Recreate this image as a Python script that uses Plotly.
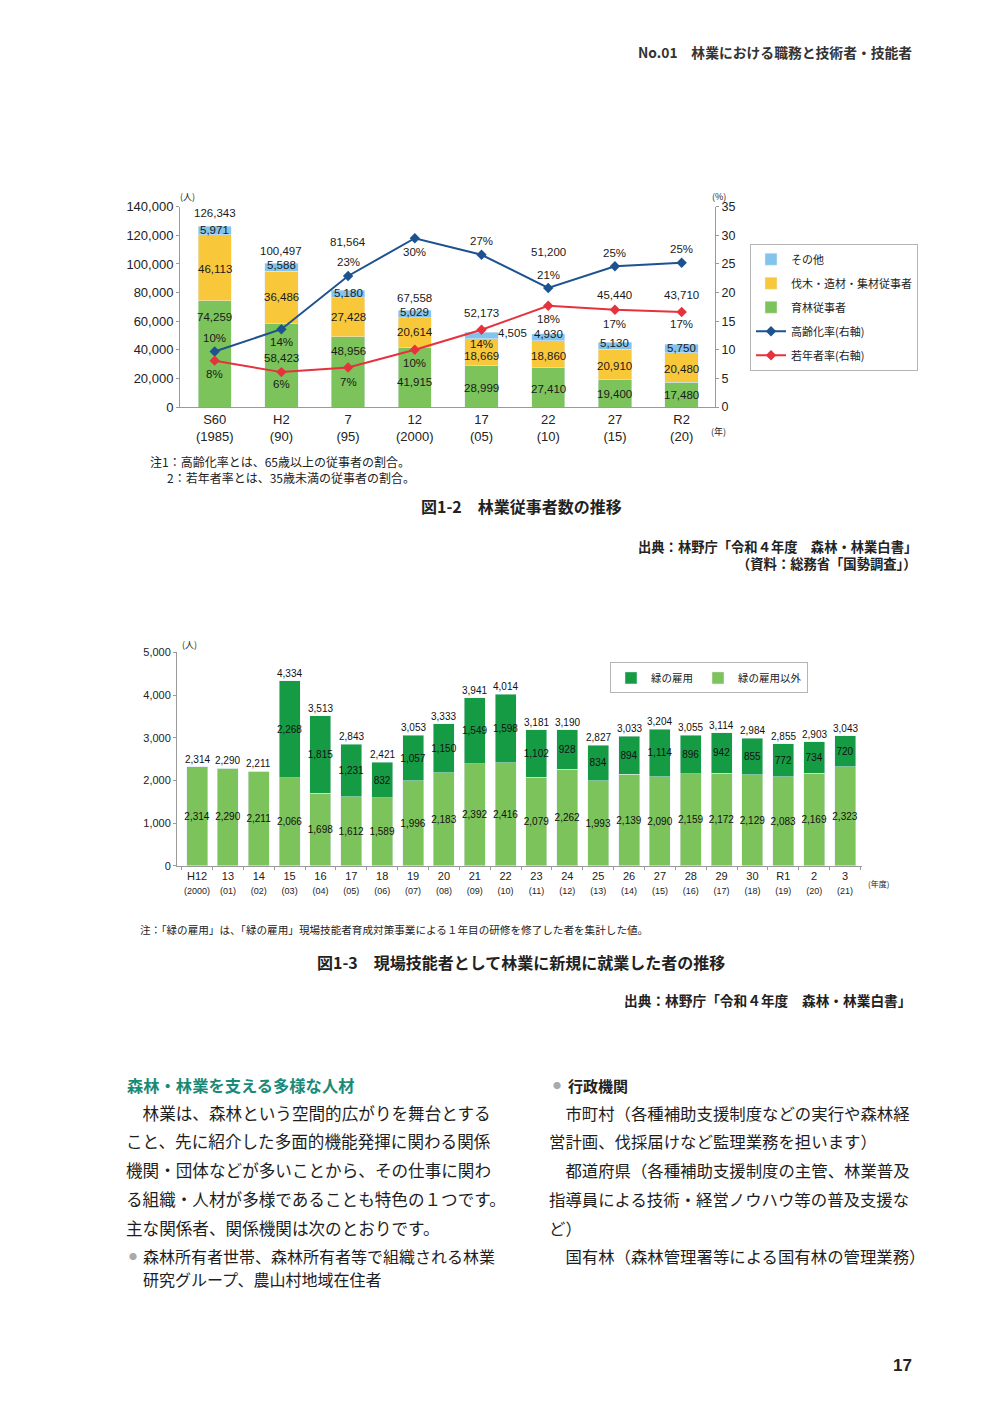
import plotly.graph_objects as go

# page is 1000x1415; figure drawn at 984x1399 with calibration to page pixels
M = 8
W, H = 1000 - 2 * M, 1415 - 2 * M
def px(x): return (x + 2 - M) / W
def py(y): return 1 - ((y - 8.66) / 0.9878 - M) / H

JP = "Noto Sans CJK JP"
NUM = "Liberation Sans Narrow, Arial Narrow, Liberation Sans, Arial"
NUM1 = "Liberation Sans, Arial"

# ---------------- 図1-2 data ----------------
years1 = ["S60<br>(1985)", "H2<br>(90)", "7<br>(95)", "12<br>(2000)", "17<br>(05)",
          "22<br>(10)", "27<br>(15)", "R2<br>(20)"]
ikurin = [74259, 58423, 48956, 41915, 28999, 27410, 19400, 17480]       # 育林従事者
batsuboku = [46113, 36486, 27428, 20614, 18669, 18860, 20910, 20480]    # 伐木・造材・集材従事者
sonota = [5971, 5588, 5180, 5029, 4505, 4930, 5130, 5750]               # その他
totals1 = [126343, 100497, 81564, 67558, 52173, 51200, 45440, 43710]
koreika = [9.7, 13.6, 22.9, 29.5, 26.6, 20.8, 24.6, 25.2]               # 高齢化率
jakunen = [8.1, 6.1, 6.9, 10.0, 13.5, 17.7, 17.0, 16.6]                 # 若年者率
koreika_lbl = ["10%", "14%", "23%", "30%", "27%", "21%", "25%", "25%"]
jakunen_lbl = ["8%", "6%", "7%", "10%", "14%", "18%", "17%", "17%"]

# label offsets (pixels, up positive)
total_shift = [13, 12, 48, 12, 19, 82, 47, 49]
ikurin_shift = [37, 7, 21, -5, -2, -2, -1, 0]
batsu_shift = [-1, 0, 0, 0, -3.5, -1.5, -1.5, -1.5]
sonota_shift = [1, 2, 1, 2, 3, 3, 3, 1]
sonota_xshift = [0, 0, 0, 0, 31, 0, 0, 0]
kor_shift = [14, -13, 14, -14, 14, 13, 13, 14]
jak_shift = [-13, -12, -14, -13, -14, -13, -14, -12]

# ---------------- 図1-3 data ----------------
years2 = ["H12<br>(2000)", "13<br>(01)", "14<br>(02)", "15<br>(03)", "16<br>(04)", "17<br>(05)",
          "18<br>(06)", "19<br>(07)", "20<br>(08)", "21<br>(09)", "22<br>(10)", "23<br>(11)",
          "24<br>(12)", "25<br>(13)", "26<br>(14)", "27<br>(15)", "28<br>(16)", "29<br>(17)",
          "30<br>(18)", "R1<br>(19)", "2<br>(20)", "3<br>(21)"]
midori = [0, 0, 0, 2268, 1815, 1231, 832, 1057, 1150, 1549, 1598, 1102, 928, 834, 894,
          1114, 896, 942, 855, 772, 734, 720]                           # 緑の雇用
igai = [2314, 2290, 2211, 2066, 1698, 1612, 1589, 1996, 2183, 2392, 2416, 2079, 2262, 1993,
        2139, 2090, 2159, 2172, 2129, 2083, 2169, 2323]                 # 緑の雇用以外
totals2 = [2314, 2290, 2211, 4334, 3513, 2843, 2421, 3053, 3333, 3941, 4014, 3181, 3190,
           2827, 3033, 3204, 3055, 3114, 2984, 2855, 2903, 3043]

C_GREEN = "#7dc35b"
C_YELLOW = "#f9c83a"
C_BLUE = "#82c4ec"
C_NAVY = "#1d5290"
C_RED = "#e6323c"
C_DKGREEN = "#169b45"
AX = "#9a9a9a"

fig = go.Figure()

# chart 1 bars
fig.add_trace(go.Bar(x=years1, y=ikurin, name="育林従事者", marker_color=C_GREEN, width=0.5,
                     xaxis="x", yaxis="y", legend="legend", legendrank=3, legendgroup="a3"))
fig.add_trace(go.Bar(x=years1, y=batsuboku, name="伐木・造材・集材従事者", marker_color=C_YELLOW,
                     width=0.5, xaxis="x", yaxis="y", legend="legend", legendrank=2, legendgroup="a2"))
fig.add_trace(go.Bar(x=years1, y=sonota, name="その他", marker_color=C_BLUE, width=0.5,
                     xaxis="x", yaxis="y", legend="legend", legendrank=1, legendgroup="a1"))
fig.add_trace(go.Scatter(x=years1, y=koreika, name="高齢化率(右軸)", mode="lines+markers",
                         line=dict(color=C_NAVY, width=2), marker=dict(symbol="diamond", size=8, color=C_NAVY),
                         xaxis="x", yaxis="y2", legend="legend", legendrank=4, legendgroup="a4"))
fig.add_trace(go.Scatter(x=years1, y=jakunen, name="若年者率(右軸)", mode="lines+markers",
                         line=dict(color=C_RED, width=2), marker=dict(symbol="diamond", size=8, color=C_RED),
                         xaxis="x", yaxis="y2", legend="legend", legendrank=5, legendgroup="a5"))

# chart 2 bars
fig.add_trace(go.Bar(x=years2, y=igai, name="緑の雇用以外", marker_color=C_GREEN, width=0.68,
                     text=[f"{v:,}" for v in igai], textposition="inside", insidetextanchor="middle",
                     textangle=0, constraintext="none",
                     textfont=dict(family=NUM, size=10, color="#111"),
                     xaxis="x2", yaxis="y3", legend="legend2", legendrank=2))
fig.add_trace(go.Bar(x=years2, y=midori, name="緑の雇用", marker_color=C_DKGREEN, width=0.68,
                     text=[f"{v:,}" if v else "" for v in midori], textposition="inside",
                     insidetextanchor="middle", textangle=0, constraintext="none",
                     textfont=dict(family=NUM, size=10, color="#111"),
                     xaxis="x2", yaxis="y3", legend="legend2", legendrank=1))

ann = []
lblfont = dict(family=NUM1, size=11.5, color="#1a1a1a")
for i, c in enumerate(years1):
    g, b, s = ikurin[i], batsuboku[i], sonota[i]
    ann.append(dict(x=c, y=g / 2, xref="x", yref="y", text=f"{g:,}", showarrow=False,
                    yshift=ikurin_shift[i], font=lblfont))
    ann.append(dict(x=c, y=g + b / 2, xref="x", yref="y", text=f"{b:,}", showarrow=False,
                    yshift=batsu_shift[i], font=lblfont))
    ann.append(dict(x=c, y=g + b + s / 2, xref="x", yref="y", text=f"{s:,}", showarrow=False,
                    yshift=sonota_shift[i], xshift=sonota_xshift[i], font=lblfont))
    ann.append(dict(x=c, y=totals1[i], xref="x", yref="y", text=f"{totals1[i]:,}", showarrow=False,
                    yshift=total_shift[i], font=lblfont))
    ann.append(dict(x=c, y=koreika[i], xref="x", yref="y2", text=koreika_lbl[i], showarrow=False,
                    yshift=kor_shift[i], font=lblfont))
    ann.append(dict(x=c, y=jakunen[i], xref="x", yref="y2", text=jakunen_lbl[i], showarrow=False,
                    yshift=jak_shift[i], font=lblfont))

for i, c in enumerate(years2):
    ann.append(dict(x=c, y=totals2[i], xref="x2", yref="y3", text=f"{totals2[i]:,}", showarrow=False,
                    yanchor="bottom", yshift=0, font=dict(family=NUM, size=10, color="#111")))

def t(x, y, text, size=11, color="#222", anchor="left", family=JP):
    ann.append(dict(x=px(x), y=py(y), xref="paper", yref="paper", text=text, showarrow=False,
                    xanchor=anchor, yanchor="middle", font=dict(family=family, size=size, color=color)))

# page header
t(912, 54, "<b>No.01　林業における職務と技術者・技能者</b>", 13.8, "#333", "right")
# unit labels chart 1
t(176, 198, "(人)", 9, "#222", "left")
t(708, 198, "(%)", 9, "#222", "left")
t(707, 432, "(年)", 9, "#222", "left")
# notes chart 1
t(146, 462, "注1：高齢化率とは、65歳以上の従事者の割合。", 12)
t(163, 478, "2：若年者率とは、35歳未満の従事者の割合。", 12)
t(519, 507, "<b>図1-2　林業従事者数の推移</b>", 16, "#222", "center")
t(917, 547, "<b>出典：林野庁「令和４年度　森林・林業白書」</b>", 13.3, "#222", "right")
t(917, 564, "<b>（資料：総務省「国勢調査」）</b>", 13.3, "#222", "right")
# chart 2 units
t(178, 645, "(人)", 9, "#222", "left")
t(864, 884, "(年度)", 8, "#222", "left")
t(136, 930, "注：「緑の雇用」は、「緑の雇用」現場技能者育成対策事業による１年目の研修を修了した者を集計した値。", 10.6)
t(519, 962, "<b>図1-3　現場技能者として林業に新規に就業した者の推移</b>", 16, "#222", "center")
t(911, 1000, "<b>出典：林野庁「令和４年度　森林・林業白書」</b>", 13.7, "#222", "right")

# body text
t(123, 1085, "<b>森林・林業を支える多様な人材</b>", 16.3, "#1a8a78")
left_lines = ["　林業は、森林という空間的広がりを舞台とする",
              "こと、先に紹介した多面的機能発揮に関わる関係",
              "機関・団体などが多いことから、その仕事に関わ",
              "る組織・人材が多様であることも特色の１つです。",
              "主な関係者、関係機関は次のとおりです。"]
for k, ytxt in enumerate([1113, 1141, 1170, 1199, 1228]):
    t(122, ytxt, left_lines[k], 16.6, "#1e1e1e")
t(125, 1256, "●", 8, "#aaaaaa")
t(139, 1256, "森林所有者世帯、森林所有者等で組織される林業", 16, "#1e1e1e")
t(139, 1279, "研究グループ、農山村地域在住者", 16, "#1e1e1e")

t(549, 1085, "●", 8, "#aaaaaa")
t(564, 1085, "<b>行政機関</b>", 15, "#222")
right_lines = ["　市町村（各種補助支援制度などの実行や森林経",
               "営計画、伐採届けなど監理業務を担います）",
               "　都道府県（各種補助支援制度の主管、林業普及",
               "指導員による技術・経営ノウハウ等の普及支援な",
               "ど）",
               "　国有林（森林管理署等による国有林の管理業務）"]
for k, ytxt in enumerate([1113, 1141, 1170, 1199, 1228, 1256]):
    t(545, ytxt, right_lines[k], 16.4, "#1e1e1e")

t(912, 1365, "<b>17</b>", 17, "#222", "right", NUM1)

axis_common = dict(showline=True, linecolor=AX, linewidth=1, showgrid=False, zeroline=False,
                   tickcolor=AX, mirror=False)

ticktext2 = [c.replace("<br>", "<br><span style='font-size:9px'>") + "</span>" for c in years2]

fig.update_layout(
    width=W, height=H, autosize=False,
    margin=dict(l=0, r=0, t=0, b=0),
    paper_bgcolor="white", plot_bgcolor="white",
    barmode="stack",
    font=dict(family=JP, color="#222"),
    showlegend=True,
    xaxis=dict(domain=[px(178), px(713)], anchor="y", type="category", range=[-0.52, 7.5],
               ticks="", tickangle=0, tickfont=dict(family=NUM1, size=13, color="#222"), **axis_common),
    yaxis=dict(domain=[py(408), py(208)], anchor="x", range=[0, 140000], tickvals=list(range(0, 140001, 20000)),
               tickformat=",", ticks="outside", ticklen=3,
               tickfont=dict(family=NUM1, size=13, color="#222"), **axis_common),
    yaxis2=dict(overlaying="y", anchor="x", side="right", range=[0, 35], tickvals=list(range(0, 36, 5)),
                ticks="outside", ticklen=3, tickfont=dict(family=NUM1, size=12.5, color="#222"), **axis_common),
    xaxis2=dict(domain=[px(175), px(860)], anchor="y3", type="category", range=[-0.65, 21.55],
                ticks="outside", tickson="boundaries", ticklen=3, tickangle=0,
                tickvals=years2, ticktext=ticktext2,
                tickfont=dict(family=NUM1, size=11, color="#222"), **axis_common),
    yaxis3=dict(domain=[py(866), py(653)], anchor="x2", range=[0, 5000], tickvals=list(range(0, 5001, 1000)),
                tickformat=",", ticks="outside", ticklen=3,
                tickfont=dict(family=NUM1, size=11, color="#222"), **axis_common),
    legend=dict(x=px(748), y=py(245), xanchor="left", yanchor="top", bgcolor="white",
                bordercolor="#b5b5b5", borderwidth=1, tracegroupgap=5,
                font=dict(family=JP, size=11, color="#222"), traceorder="grouped"),
    legend2=dict(x=px(608), y=py(663), xanchor="left", yanchor="top", orientation="h", bgcolor="white",
                 bordercolor="#b5b5b5", borderwidth=1, traceorder="normal",
                 font=dict(family=JP, size=10.5, color="#222")),
    annotations=ann,
)

fig.write_html("out.html")
